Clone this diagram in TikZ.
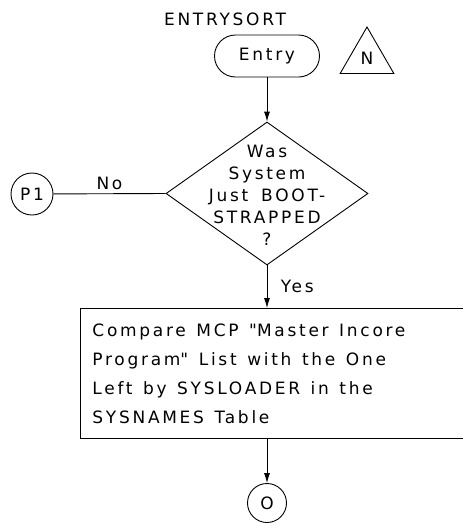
\documentclass[tikz,border=0pt]{standalone}
\usepackage{fontspec}
\setmainfont{DejaVu Sans}[LetterSpace=16,WordSpace=1.6]
\usetikzlibrary{shapes.geometric,arrows.meta}
\begin{document}
\begin{tikzpicture}[x=1pt,y=-1pt,line width=0.9pt,
  every node/.style={font=\fontsize{17}{22}\selectfont},
  flow/.style={arrows={-Latex[length=10pt,width=6pt]}}]
\clip (0,0) rectangle (463,523);
\node (title) at (225,19) {ENTRYSORT};
\node[draw,rounded corners=21pt,minimum width=105pt,minimum height=42pt] (e) at (267,56) {Entry};
\node[draw,regular polygon,regular polygon sides=3,minimum size=62pt,inner sep=0pt] (n) at (367,58) {N};
\node[draw,diamond,minimum width=202pt,minimum height=143pt,inner sep=0pt] (q) at (267,193.5) {};
\node[align=center] (qtext) at (267,195) {Was\\System\\Just BOOT-\\STRAPPED\\?};
\node[draw,circle,minimum size=42pt,inner sep=0pt] (p) at (32,194) {P1};
\node[anchor=north west,inner xsep=12pt,text width=416pt,minimum height=130pt,
  align=left,font=\fontsize{17}{29}\selectfont] (b) at (80,308)
  {\spaceskip=0.62em\relax Compare MCP \textquotedbl Master Incore\\Program\textquotedbl\ List with the One\\Left by SYSLOADER in the\\SYSNAMES Table};
\draw (b.north east) -- (b.north west) -- (b.south west) -- (b.south east);
\node[draw,circle,minimum size=39pt,inner sep=0pt] (o) at (267,503) {O};
% connectors
\draw[flow] (e) -- (q);
\draw (p) -- (q.west) node[midway,above] {No};
\draw[flow] (q.south) -- (q.south |- b.north) node[midway,right=10pt] {Yes};
\draw[flow] (o.north |- b.south) -- (o);
\end{tikzpicture}
\end{document}
